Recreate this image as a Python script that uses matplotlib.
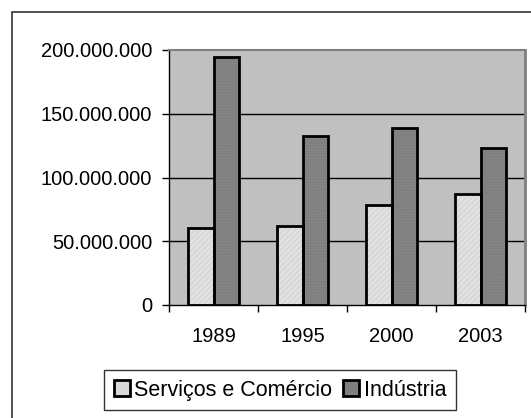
import numpy as np
import matplotlib
matplotlib.use("Agg")
import matplotlib.pyplot as plt
from matplotlib.ticker import FuncFormatter, FixedLocator
from matplotlib.patches import Rectangle, Patch

plt.rcParams['font.family'] = ['Liberation Sans', 'DejaVu Sans']
plt.rcParams['hatch.linewidth'] = 0.6

anos = ["1989", "1995", "2000", "2003"]
servicos = [60600000, 62200000, 78200000, 87400000]
industria = [194500000, 132500000, 139100000, 123400000]

W, H = 531, 418
fig = plt.figure(figsize=(W / 100, H / 100), dpi=100)
fig.patch.set_facecolor("white")

# moldura externa (so aparecem as bordas de cima e da esquerda)
fig.patches.append(Rectangle((12 / W, -0.1), 1.2, (H - 12) / H + 0.1,
                             transform=fig.transFigure, fill=False,
                             edgecolor="#333333", linewidth=1.2))

ax = fig.add_axes([169 / W, (H - 305) / H, 356 / W, 255 / H])
ax.set_facecolor("#c0c0c0")

x = np.arange(len(anos))
bw = 0.292

# barras com textura, depois o contorno preto por cima
ax.bar(x - bw / 2, servicos, bw, color="#d9d9d9", edgecolor="#ececec",
       hatch="//////", linewidth=0, zorder=2)
ax.bar(x + bw / 2, industria, bw, color="#7f7f7f", edgecolor="#8c8c8c",
       hatch="......", linewidth=0, zorder=2)
ax.bar(x - bw / 2, servicos, bw, fill=False, edgecolor="black", linewidth=2, zorder=3)
ax.bar(x + bw / 2, industria, bw, fill=False, edgecolor="black", linewidth=2, zorder=3)

ax.set_xlim(-0.5, len(anos) - 0.5)
ax.set_ylim(0, 200000000)
ax.set_yticks([0, 50000000, 100000000, 150000000, 200000000])
ax.yaxis.set_major_formatter(FuncFormatter(lambda v, p: f"{int(v):,}".replace(",", ".")))
for v in [50000000, 100000000, 150000000]:
    ax.axhline(v, color="black", linewidth=1, zorder=1)

ax.xaxis.set_major_locator(FixedLocator(np.arange(-0.5, len(anos), 1.0)))
ax.xaxis.set_major_formatter(FuncFormatter(lambda v, p: ""))
ax.xaxis.set_minor_locator(FixedLocator(x))
ax.set_xticklabels(anos, minor=True)
ax.tick_params(axis="x", which="major", length=5, width=1, color="black", direction="out")
ax.tick_params(axis="x", which="minor", length=0, pad=16, labelsize=14.5)
ax.tick_params(axis="y", length=5, width=1, color="black", direction="out", pad=7, labelsize=14.5)

ax.spines["left"].set_color("black")
ax.spines["bottom"].set_color("black")
ax.spines["top"].set_color("#808080")
ax.spines["right"].set_color("#808080")
ax.spines["right"].set_linewidth(2)
ax.spines["top"].set_linewidth(1.5)
for s in ["left", "bottom"]:
    ax.spines[s].set_linewidth(1)

handles = [Patch(facecolor="#d9d9d9", edgecolor="black", linewidth=2, label="Serviços e Comércio"),
           Patch(facecolor="#7f7f7f", edgecolor="black", linewidth=2, label="Indústria")]
leg = fig.legend(handles=handles, loc="upper center", bbox_to_anchor=(280 / W, (H - 370) / H),
                 ncol=2, fontsize=15.5, frameon=True, fancybox=False,
                 handlelength=0.75, handleheight=0.75, handletextpad=0.2,
                 columnspacing=0.5, borderpad=0.45, borderaxespad=0)
leg.get_frame().set_edgecolor("black")
leg.get_frame().set_linewidth(1)

fig.savefig("out.png", dpi=100)
